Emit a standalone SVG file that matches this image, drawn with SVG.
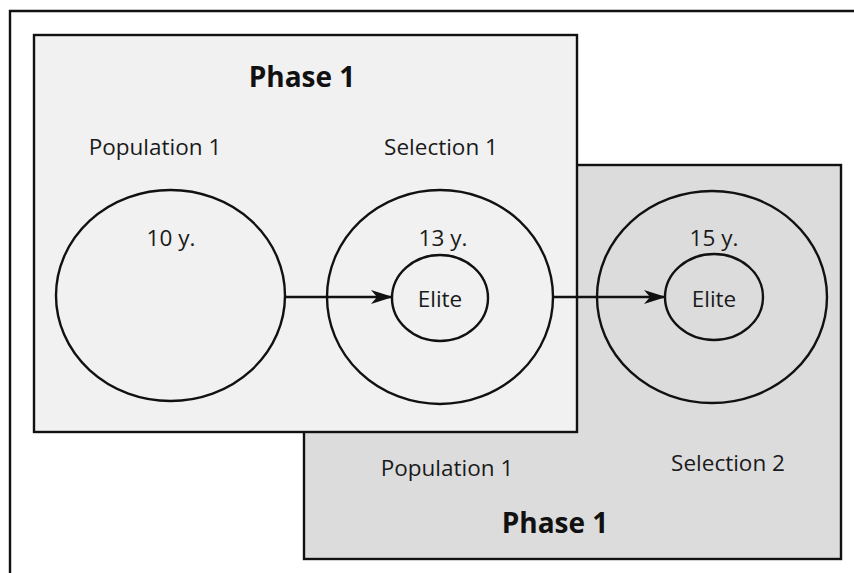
<svg xmlns="http://www.w3.org/2000/svg" width="854" height="573" viewBox="0 0 854 573">
<style>
  .lbl { font-family: "Open Sans", "Liberation Sans", sans-serif; font-size: 22.5px; fill: #1a1a1a; text-anchor: middle; }
  .ttl { font-family: "Open Sans", "Liberation Sans", sans-serif; font-size: 28px; font-weight: bold; fill: #111; text-anchor: middle; }
  .ring { fill: none; stroke: #111; stroke-width: 2.4; }
  .box { stroke: #111; stroke-width: 2.4; }
  .conn { stroke: #111; stroke-width: 2.6; fill: none; }
</style>
<defs>
  <marker id="arrow" markerWidth="22" markerHeight="16" refX="21" refY="8" orient="auto" markerUnits="userSpaceOnUse">
    <path d="M0,1 L22,8 L0,15 L6,8 Z" fill="#111"/>
  </marker>
</defs>
<rect x="0" y="0" width="854" height="573" fill="#ffffff"/>
<path d="M10,573 V11 H854" fill="none" stroke="#111" stroke-width="2.4"/>
<g id="phase2">
  <rect class="box" x="304" y="165" width="537" height="394" fill="#dcdcdd"/>
  <text class="lbl" x="447" y="476">Population 1</text>
  <text class="lbl" x="728" y="471">Selection 2</text>
  <text class="ttl" x="555" y="533">Phase 1</text>
</g>
<g id="phase1">
  <rect class="box" x="34" y="35" width="543" height="397" fill="#f1f1f1"/>
  <text class="ttl" x="302" y="87">Phase 1</text>
  <text class="lbl" x="155" y="155">Population 1</text>
  <text class="lbl" x="441" y="155">Selection 1</text>
</g>
<g id="population1">
  <ellipse class="ring" cx="170.5" cy="295.5" rx="114.5" ry="105.5"/>
  <text class="lbl" x="171" y="246">10 y.</text>
</g>
<g id="selection1">
  <ellipse class="ring" cx="440" cy="297" rx="113" ry="107"/>
  <text class="lbl" x="443" y="246">13 y.</text>
</g>
<g id="elite1">
  <ellipse class="ring" cx="440" cy="298" rx="48" ry="43"/>
  <text class="lbl" x="440" y="307">Elite</text>
</g>
<g id="selection2">
  <ellipse class="ring" cx="712" cy="297" rx="115" ry="106"/>
  <text class="lbl" x="714" y="246">15 y.</text>
</g>
<g id="elite2">
  <ellipse class="ring" cx="714" cy="297" rx="49" ry="43"/>
  <text class="lbl" x="714" y="307">Elite</text>
</g>
<g id="connectors">
  <line class="conn" x1="285" y1="297" x2="392" y2="297" marker-end="url(#arrow)"/>
  <line class="conn" x1="553" y1="297" x2="665" y2="297" marker-end="url(#arrow)"/>
</g>
</svg>
